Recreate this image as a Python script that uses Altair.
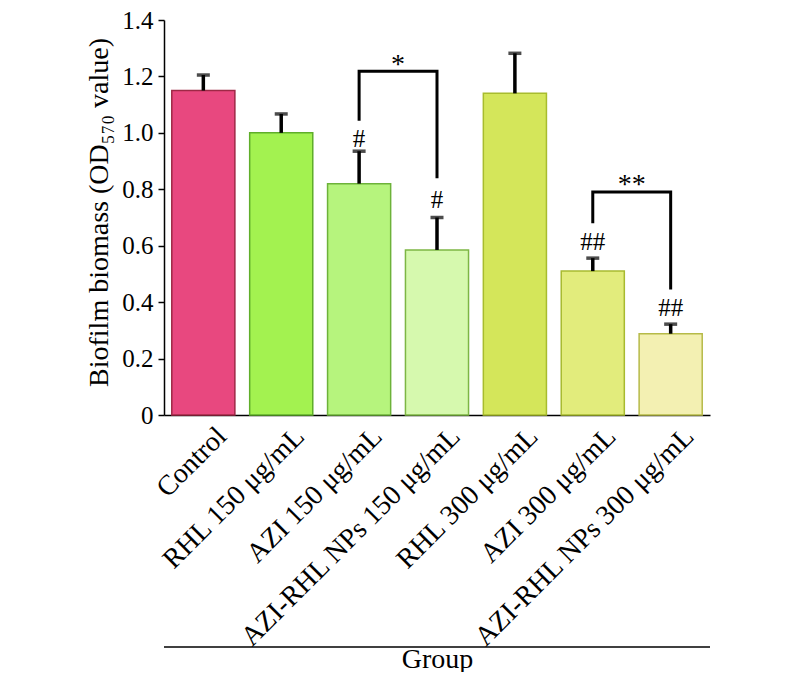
import altair as alt
import pandas as pd

groups = ["Control", "RHL 150 μg/mL", "AZI 150 μg/mL", "AZI-RHL NPs 150 μg/mL",
          "RHL 300 μg/mL", "AZI 300 μg/mL", "AZI-RHL NPs 300 μg/mL"]
means = [1.15, 1.00, 0.82, 0.585, 1.14, 0.51, 0.288]
errs = [0.055, 0.067, 0.115, 0.115, 0.142, 0.046, 0.034]
fills = ["#E8487F", "#A3F250", "#B6F47D", "#D6F9AE", "#D4E65A", "#E2EC7C", "#F3F0B2"]
strokes = ["#9E2846", "#5FAE2A", "#6DB23A", "#7DB644", "#A8BC2E", "#A8BA30", "#B6BA48"]

hash_groups = ["AZI 150 μg/mL", "AZI-RHL NPs 150 μg/mL", "AZI 300 μg/mL", "AZI-RHL NPs 300 μg/mL"]
hash_text = ["#", "#", "##", "##"]
hash_y = [0.978, 0.761, 0.612, 0.380]

br_left = ["AZI 150 μg/mL", "AZI 300 μg/mL"]
br_right = ["AZI-RHL NPs 150 μg/mL", "AZI-RHL NPs 300 μg/mL"]
br_top = [1.218, 0.790]
br_left_bottom = [1.043, 0.680]
br_right_bottom = [0.839, 0.445]
br_label = ["*", "**"]
br_label_y = [1.257, 0.834]

FONT = "Liberation Serif"
W, H = 546, 395

df = pd.DataFrame({"group": groups, "mean": means, "err": errs})
df["upper"] = df["mean"] + df["err"]

hdf = pd.DataFrame({"group": hash_groups, "label": hash_text, "y": hash_y})

rows = []
for i in range(len(br_left)):
    pts = [(br_left[i], br_left_bottom[i]), (br_left[i], br_top[i]),
           (br_right[i], br_top[i]), (br_right[i], br_right_bottom[i])]
    for k, (g, v) in enumerate(pts):
        rows.append({"id": i, "order": k, "group": g, "y": v})
bdf = pd.DataFrame(rows)
ldf = pd.DataFrame({"group": br_left, "label": br_label, "y": br_label_y})

xscale = alt.Scale(domain=groups, paddingInner=0.19, paddingOuter=0.1)
yscale = alt.Scale(domain=[0, 1.4], nice=False)

x_axis = alt.Axis(
    title="Group", labelAngle=-45, labelAlign="right", labelBaseline="top",
    labelPadding=7, labelOffset=9, ticks=False, tickSize=0,
    labelFont=FONT, labelFontSize=28, labelColor="black", labelLimit=0,
    titleFont=FONT, titleFontSize=28, titleFontWeight="normal", titleColor="black",
    titleX=W / 2, titleY=252, titleAlign="center", titleBaseline="alphabetic",
    domainColor="black", domainWidth=1.5,
)
y_axis = alt.Axis(
    title="Biofilm biomass (OD₅₇₀ value)", values=[0, 0.2, 0.4, 0.6, 0.8, 1.0, 1.2, 1.4],
    labelExpr="datum.value == 0 ? '0' : format(datum.value, '.1f')",
    labelFont=FONT, labelFontSize=25, labelColor="black", labelPadding=5,
    tickSize=6, tickColor="black", tickWidth=1.5, grid=False,
    domainColor="black", domainWidth=1.5,
    titleFont=FONT, titleFontSize=28, titleFontWeight="normal", titleColor="black",
    titleAngle=270, titleX=-57, titleY=192, titleAlign="center", titleBaseline="alphabetic",
)

bars = alt.Chart(df).mark_bar(strokeWidth=1.5).encode(
    x=alt.X("group:N", scale=xscale, axis=x_axis, sort=groups),
    y=alt.Y("mean:Q", scale=yscale, axis=y_axis),
    fill=alt.Fill("group:N", scale=alt.Scale(domain=groups, range=fills), legend=None),
    stroke=alt.Stroke("group:N", scale=alt.Scale(domain=groups, range=strokes), legend=None),
)

stems = alt.Chart(df).mark_rule(color="black", strokeWidth=3.5).encode(
    x=alt.X("group:N", sort=groups), y="mean:Q", y2="upper:Q")
caps = alt.Chart(df).mark_tick(color="black", size=13, thickness=3.5).encode(
    x=alt.X("group:N", sort=groups), y="upper:Q")

hashes = alt.Chart(hdf).mark_text(font=FONT, fontSize=25, color="black", baseline="middle").encode(
    x=alt.X("group:N", sort=groups), y="y:Q", text="label:N")

brackets = alt.Chart(bdf).mark_line(color="black", strokeWidth=3, strokeCap="butt").encode(
    x=alt.X("group:N", sort=groups), y="y:Q", detail="id:N", order="order:Q")

stars = alt.Chart(ldf).mark_text(font=FONT, fontSize=28, color="black", baseline="middle", dx=39, dy=5).encode(
    x=alt.X("group:N", sort=groups), y="y:Q", text="label:N")

group_line = alt.Chart(pd.DataFrame({"a": [0]})).mark_rule(color="black", strokeWidth=1.5).encode(
    x=alt.value(0), x2=alt.value(W), y=alt.value(627))

chart = alt.layer(bars, stems, caps, brackets, hashes, stars, group_line).properties(
    width=W, height=H,
    autosize=alt.AutoSizeParams(type="none"),
    padding={"left": 156, "top": 12, "right": 76, "bottom": 257},
).configure_view(stroke=None)

chart.save("out.html", embed_options={"renderer": "svg", "actions": False})
